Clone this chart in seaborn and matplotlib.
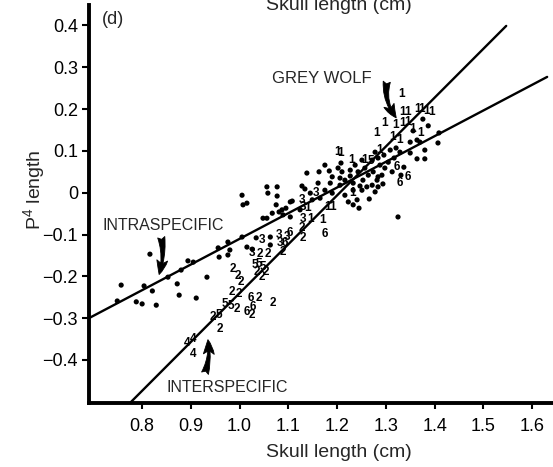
import matplotlib
matplotlib.use("Agg")
import matplotlib.pyplot as plt
import seaborn as sns
import pandas as pd

# ---- intraspecific specimens (plain dots) ----
intra_x = [0.749, 0.757, 0.788, 0.800, 0.804, 0.821, 0.816, 0.829, 0.853, 0.872,
           0.880, 0.876, 0.894, 0.905, 0.911, 0.933, 0.956, 0.976, 0.976, 0.980,
           1.005, 1.026, 1.034, 0.958, 1.005, 1.056, 1.077, 1.058, 1.077, 1.007,
           1.015, 1.067, 1.048, 1.056, 1.087, 1.095, 1.104, 1.063, 1.063, 1.089,
           1.104, 1.015, 1.108, 1.075, 1.081, 1.128, 1.134, 1.145, 1.138, 1.163,
           1.175, 1.184, 1.190, 1.202, 1.208, 1.210, 1.186, 1.190, 1.223, 1.241,
           1.245, 1.266, 1.233, 1.233, 1.253, 1.264, 1.274, 1.282, 1.272, 1.261,
           1.251, 1.233, 1.284, 1.292, 1.298, 1.313, 1.294, 1.284, 1.278, 1.337,
           1.331, 1.325, 1.356, 1.376, 1.387, 1.409, 1.407, 1.364, 1.350, 1.370,
           1.380, 1.364, 1.380, 1.350, 1.272, 1.284, 1.296, 1.309, 1.321, 1.329,
           1.305, 1.288, 1.317, 1.278, 1.124, 1.149, 1.165, 1.175, 1.206, 1.216,
           1.227, 1.243, 1.257, 1.247, 1.161, 1.216, 1.206, 1.237, 1.251, 1.227]
intra_y = [-0.259, -0.221, -0.261, -0.266, -0.223, -0.235, -0.147, -0.269, -0.202, -0.218,
           -0.185, -0.245, -0.163, -0.166, -0.252, -0.202, -0.132, -0.118, -0.149, -0.137,
           -0.106, -0.135, -0.108, -0.154, -0.006, 0.014, 0.014, -0.001, -0.008, -0.029,
           -0.025, -0.049, -0.061, -0.061, -0.041, -0.037, -0.022, -0.125, -0.106, -0.053,
           -0.058, -0.130, -0.020, -0.029, -0.046, 0.016, 0.009, -0.001, 0.047, 0.050,
           0.066, 0.052, 0.038, 0.059, 0.071, 0.050, 0.023, -0.001, -0.022, -0.017,
           -0.037, -0.015, -0.029, 0.023, 0.030, 0.042, 0.050, 0.030, 0.018, 0.014,
           0.006, 0.006, 0.038, 0.042, 0.059, 0.050, 0.021, 0.014, 0.002, 0.061,
           0.042, -0.058, 0.148, 0.176, 0.160, 0.143, 0.119, 0.126, 0.121, 0.121,
           0.102, 0.081, 0.081, 0.095, 0.078, 0.083, 0.090, 0.102, 0.107, 0.097,
           0.073, 0.066, 0.083, 0.097, -0.041, -0.017, -0.013, 0.006, 0.018, 0.030,
           0.040, 0.050, 0.059, 0.016, 0.023, -0.006, 0.035, 0.066, 0.078, 0.054]

# ---- interspecific species means, plotted as their species code ----
sp1_x = [1.333, 1.335, 1.344, 1.366, 1.374, 1.383, 1.393, 1.298, 1.319, 1.335,
         1.344, 1.282, 1.354, 1.372, 1.313, 1.329, 1.200, 1.208, 1.229, 1.257,
         1.231, 1.180, 1.190, 1.140, 1.145, 1.171, 1.288]
sp1_y = [0.236, 0.193, 0.193, 0.200, 0.200, 0.195, 0.193, 0.167, 0.162, 0.167,
         0.169, 0.143, 0.152, 0.143, 0.133, 0.126, 0.097, 0.095, 0.078, 0.078,
         -0.001, -0.034, -0.034, -0.037, -0.063, -0.065, 0.102]

sp2_x = [1.042, 1.058, 1.089, 1.128, 1.130, 0.987, 0.997, 1.003, 0.985, 0.999,
         0.995, 1.040, 1.069, 1.026, 0.946, 0.960, 1.036, 1.046, 1.054]
sp2_y = [-0.147, -0.147, -0.142, -0.084, -0.108, -0.183, -0.199, -0.214, -0.238, -0.243,
         -0.278, -0.252, -0.264, -0.293, -0.297, -0.326, -0.190, -0.202, -0.190]

sp3_x = [1.157, 1.128, 1.130, 1.130, 1.046, 1.081, 1.083, 1.026, 1.097]
sp3_y = [-0.001, -0.017, -0.034, -0.063, -0.113, -0.101, -0.120, -0.144, -0.106]

sp4_x = [0.892, 0.905, 0.905]
sp4_y = [-0.359, -0.350, -0.386]

sp5_x = [0.970, 0.982, 1.032, 1.040, 1.048, 0.958, 1.270]
sp5_y = [-0.266, -0.271, -0.173, -0.171, -0.178, -0.293, 0.076]

sp6_x = [1.104, 1.093, 1.175, 1.323, 1.346, 1.329, 1.024, 1.028, 1.015]
sp6_y = [-0.096, -0.120, -0.099, 0.061, 0.038, 0.023, -0.252, -0.273, -0.285]

species = {"1": (sp1_x, sp1_y), "2": (sp2_x, sp2_y), "3": (sp3_x, sp3_y),
           "4": (sp4_x, sp4_y), "5": (sp5_x, sp5_y), "6": (sp6_x, sp6_y)}

# ---- fitted allometric lines (end points) ----
intra_line_x = [0.691, 1.631]
intra_line_y = [-0.300, 0.277]
inter_line_x = [0.775, 1.547]
inter_line_y = [-0.503, 0.399]

x_ticks = [0.8, 0.9, 1.0, 1.1, 1.2, 1.3, 1.4, 1.5, 1.6]
x_tick_labels = ["0.8", "0.9", "1.0", "1.1", "1.2", "1.3", "1.4", "1.5", "1.6"]
y_ticks = [-0.4, -0.3, -0.2, -0.1, 0.0, 0.1, 0.2, 0.3, 0.4]
y_tick_labels = ["\u22120.4", "\u22120.3", "\u22120.2", "\u22120.1", "0",
                 "0.1", "0.2", "0.3", "0.4"]

sns.set_theme(style="white")
plt.rcParams["font.family"] = ["Liberation Sans", "DejaVu Sans"]
plt.rcParams["mathtext.fontset"] = "custom"
plt.rcParams["mathtext.rm"] = "Liberation Sans"
plt.rcParams["mathtext.it"] = "Liberation Sans:italic"
plt.rcParams["mathtext.bf"] = "Liberation Sans:bold"

W, H = 553, 467
fig = plt.figure(figsize=(W / 100, H / 100), dpi=100, facecolor="white")
ax = fig.add_axes([89 / W, (H - 403) / H, 1 - 89 / W, (403 - 5) / H])
ax.set_facecolor("white")

# regression lines
sns.lineplot(data=pd.DataFrame({"x": intra_line_x, "y": intra_line_y}), x="x", y="y",
             color="black", lw=1.7, ax=ax, sort=False)
sns.lineplot(data=pd.DataFrame({"x": inter_line_x, "y": inter_line_y}), x="x", y="y",
             color="black", lw=1.7, ax=ax, sort=False)

# individual specimens
sns.scatterplot(data=pd.DataFrame({"x": intra_x, "y": intra_y}), x="x", y="y",
                s=14, color="black", edgecolor="none", ax=ax, zorder=3)

# species codes
for code, (xs, ys) in species.items():
    for xv, yv in zip(xs, ys):
        ax.text(xv, yv, code, fontsize=8.5, fontweight="bold", ha="center",
                va="center", color="black", zorder=4)

ax.set_xlim(0.691, 1.643)
ax.set_ylim(-0.503, 0.449)
ax.set_xticks(x_ticks)
ax.set_xticklabels(x_tick_labels)
ax.set_yticks(y_ticks)
ax.set_yticklabels(y_tick_labels)
ax.set_xlabel("")
ax.set_ylabel("")
ax.tick_params(axis="both", labelsize=13, colors="black")
ax.tick_params(axis="y", direction="out", length=5, width=1.5, pad=3, left=True)
ax.tick_params(axis="x", direction="out", length=4, width=1.5, pad=7, bottom=True)

for side in ("top", "right"):
    ax.spines[side].set_visible(False)
for side in ("left", "bottom"):
    ax.spines[side].set_color("black")
    ax.spines[side].set_linewidth(2.8)

# annotations
ax.text(0.718, 0.415, "(d)", fontsize=13, ha="left", va="center")
ax.text(1.169, 0.274, "GREY WOLF", fontsize=12, ha="center", va="center")
ax.text(0.718, -0.078, "INTRASPECIFIC", fontsize=11.5, ha="left", va="center")
ax.text(0.851, -0.465, "INTERSPECIFIC", fontsize=11.5, ha="left", va="center")

arrow_kw = dict(arrowstyle="fancy,head_length=0.8,head_width=0.6,tail_width=0.4",
                color="black", lw=0.6, mutation_scale=13)
ax.annotate("", xy=(1.325, 0.174), xytext=(1.303, 0.272),
            arrowprops=dict(connectionstyle="arc3,rad=0.25", **arrow_kw),
            annotation_clip=False)
ax.annotate("", xy=(0.833, -0.202), xytext=(0.838, -0.100),
            arrowprops=dict(connectionstyle="arc3,rad=-0.15", **arrow_kw))
ax.annotate("", xy=(0.934, -0.345), xytext=(0.927, -0.438),
            arrowprops=dict(connectionstyle="arc3,rad=0.15", **arrow_kw))

# axis titles
fig.text(338.5 / W, 1 - 457 / H, "Skull length (cm)", fontsize=14,
         ha="center", va="baseline")
fig.text(338.5 / W, 1 - 10 / H, "Skull length (cm)", fontsize=14,
         ha="center", va="baseline")
fig.text(34 / W, 1 - 190 / H, "P$^{4}$ length", fontsize=14, rotation=90,
         ha="center", va="center")

fig.savefig("out.png", dpi=100, facecolor="white")
